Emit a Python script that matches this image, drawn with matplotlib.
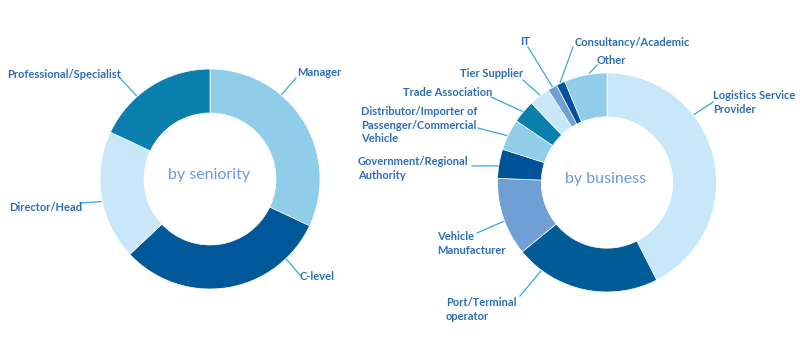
import numpy as np
import matplotlib
matplotlib.use('Agg')
from matplotlib import pyplot as plt

# data
seniority_labels = ['Manager', 'C-level', 'Director/Head', 'Professional/Specialist']
seniority_share = [32, 31, 19, 18]
seniority_colors = ['#8fcde8', '#00579a', '#c8e7f8', '#0a7fae']

business_labels = ['Logistics Service\nProvider', 'Port/Terminal\noperator', 'Vehicle\nManufacturer',
                   'Government/Regional\nAuthority', 'Distributor/Importer of\nPassenger/Commercial\nVehicle',
                   'Trade Association', 'Tier Supplier', 'IT', 'Consultancy/Academic', 'Other']
business_share = [42.5, 21.6, 11.5, 4.3, 4.6, 3.4, 3.1, 1.4, 1.3, 6.3]
business_colors = ['#c8e7f8', '#005c97', '#709fd5', '#00539a', '#8fcde8',
                   '#0a7fae', '#c8e7f8', '#709fd5', '#00539a', '#8fcde8']

# label layout in pixels: text x, text top y, leader end x, leader end y, where on wedge
seniority_layout = [(297, 67, 296, 78, 0.35), (300, 271, 300, 275, 0.19),
                    (9, 202, 80, 203, 0.46), (7, 69, 120, 78, 0.36)]
business_layout = [(713, 90, 713, 102, 0.34), (446, 297, 520, 296, 0.82),
                   (437, 231, 477, 233, 0.45), (358, 156, 472, 166, 0.42),
                   (361, 106, 478, 128, 0.45), (403, 87, 491, 97, 0.48),
                   (460, 68, 523, 80, 0.54), (520, 36, 528, 47, 0.53),
                   (575, 37, 573, 47, 0.5), (597, 55, 597, 65, 0.6)]

W, H = 800, 360
TEXT = '#2d6db4'
LINE = '#33aadd'
FONT = ['Lato', 'DejaVu Sans']

fig = plt.figure(figsize=(8, 3.6), dpi=100)
ax = fig.add_axes([0, 0, 1, 1])


def donut(values, colors, labels, layout, cx, cy, r, title):
    ax.pie(values, colors=colors, center=(cx, H - cy), radius=r, startangle=90,
           counterclock=False, wedgeprops=dict(width=0.4 * r, edgecolor='white', linewidth=0.5))
    edges = np.concatenate([[0], np.cumsum(values)]) / np.sum(values) * 360
    for i, (lab, (tx, ty, lx, ly, f)) in enumerate(zip(labels, layout)):
        a = np.radians(edges[i] + f * (edges[i + 1] - edges[i]))
        sx = cx + 1.01 * r * np.sin(a)
        sy = cy - 1.01 * r * np.cos(a)
        ax.plot([sx, lx], [H - sy, H - ly], color=LINE, lw=0.9)
        ax.text(tx, H - ty, lab, ha='left', va='top', fontsize=8, fontweight='bold',
                color=TEXT, family=FONT, linespacing=1.3)
    ax.text(cx - 1, H - cy + 4, title, ha='center', va='center', fontsize=11.5,
            fontweight='normal', color='#6a9ad6', family=FONT)


donut(seniority_share, seniority_colors, seniority_labels, seniority_layout, 210, 179, 110, 'by seniority')
donut(business_share, business_colors, business_labels, business_layout, 607, 182.5, 109.5, 'by business')

ax.set_xlim(0, W)
ax.set_ylim(0, H)
ax.set_aspect('equal')
ax.axis('off')

fig.savefig('out.png', dpi=100)
